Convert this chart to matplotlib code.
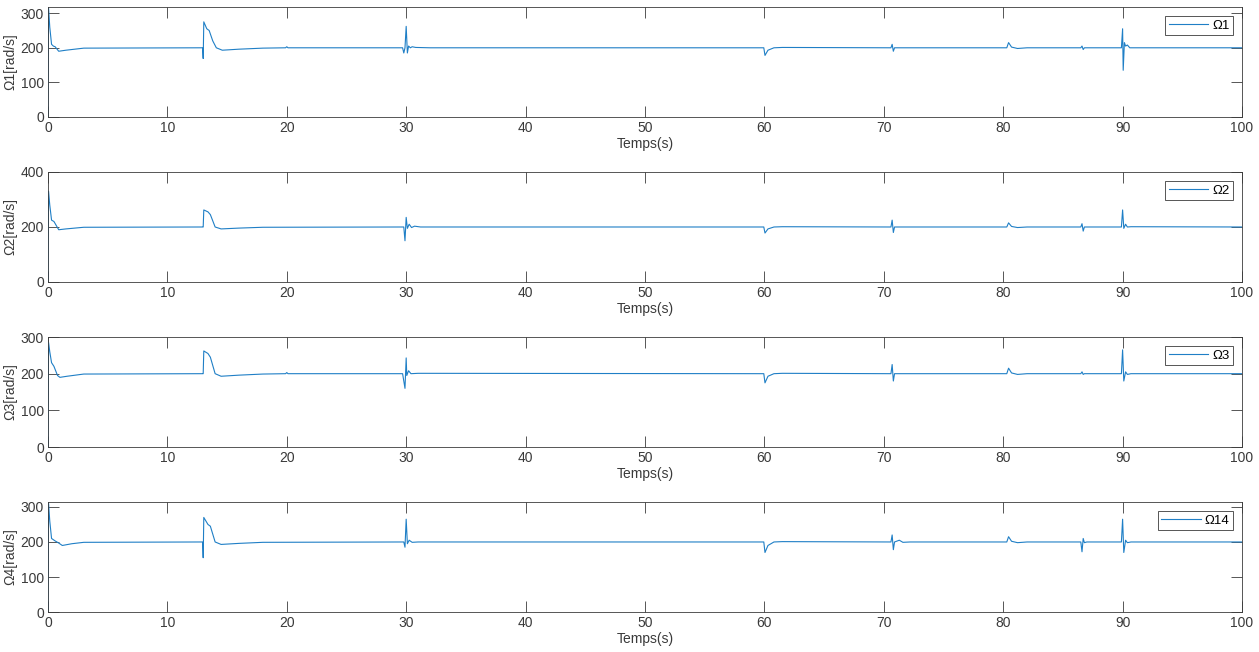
"""Four stacked rotor-speed traces, MATLAB-style subplots."""

import numpy as np
import matplotlib

matplotlib.use("Agg", force=True)
import matplotlib.pyplot as plt

# --- data (time in s, speed in rad/s) ---
t1 = [0, 0.05, 0.15, 0.3, 0.45, 0.6, 0.9, 1.5, 3, 12.95, 13.0, 13.05, 13.3, 13.5, 13.8, 14.1,
      14.6, 16, 18, 19.9, 20.0, 20.1, 29.7, 29.8, 29.9, 30.0, 30.1, 30.2, 30.35, 30.5, 30.8, 32,
      59.95, 60.05, 60.3, 60.8, 61.5, 70.6, 70.7, 70.8, 70.9, 80.3, 80.45, 80.7, 81.2, 82,
      86.5, 86.6, 86.7, 86.8, 89.9, 90.0, 90.05, 90.15, 90.25, 90.4, 90.6, 91, 100]
w1 = [0, 315, 260, 210, 205, 203, 190, 193, 199, 200, 169, 275, 255, 250, 220, 200,
      193, 196, 199, 200, 203, 200, 200, 185, 200, 262, 185, 205, 200, 203, 201, 200,
      200, 178, 193, 200, 201, 200, 210, 190, 200, 200, 215, 202, 198, 200,
      200, 205, 195, 200, 200, 255, 135, 215, 205, 208, 200, 200, 200]

t2 = [0, 0.05, 0.15, 0.3, 0.5, 0.7, 0.9, 1.5, 3, 12.95, 13.0, 13.05, 13.4, 13.6, 14.0, 14.5,
      16, 18, 29.8, 29.9, 30.0, 30.1, 30.25, 30.45, 30.7, 31.2, 59.95, 60.05, 60.3, 60.8, 61.5,
      70.6, 70.7, 70.8, 70.9, 80.3, 80.45, 80.7, 81.2, 82, 86.5, 86.6, 86.7, 86.8,
      89.9, 90.0, 90.1, 90.25, 90.4, 90.7, 100]
w2 = [0, 330, 280, 225, 220, 205, 190, 193, 199, 200, 200, 262, 255, 245, 200, 193,
      196, 199, 200, 150, 235, 195, 210, 198, 203, 200, 200, 178, 193, 200, 201,
      200, 225, 180, 200, 200, 215, 202, 198, 200, 200, 212, 185, 200,
      200, 262, 195, 210, 200, 201, 200]

t3 = [0, 0.05, 0.15, 0.3, 0.5, 0.8, 1.0, 1.6, 3, 12.95, 13.0, 13.05, 13.4, 13.6, 14.0, 14.5,
      16, 18, 19.9, 20.0, 20.1, 29.7, 29.8, 29.9, 30.0, 30.05, 30.2, 30.4, 31, 59.95, 60.05,
      60.3, 60.8, 61.5, 70.6, 70.7, 70.8, 70.9, 80.3, 80.45, 80.7, 81.2, 82, 86.5, 86.6,
      86.7, 86.8, 89.9, 90.0, 90.1, 90.25, 90.4, 90.7, 100]
w3 = [0, 285, 260, 230, 220, 195, 190, 193, 199, 200, 200, 262, 255, 245, 200, 193,
      196, 199, 200, 203, 200, 200, 180, 160, 243, 195, 208, 200, 201, 200, 175,
      193, 200, 201, 200, 225, 180, 200, 200, 215, 202, 198, 200, 200, 205,
      198, 200, 200, 265, 180, 205, 198, 200, 200]

t4 = [0, 0.05, 0.15, 0.3, 0.6, 0.9, 1.2, 2, 3, 12.95, 13.0, 13.05, 13.4, 13.6, 14.0, 14.5,
      16, 18, 29.8, 29.9, 30.0, 30.1, 30.25, 30.5, 31, 59.95, 60.05, 60.3, 60.8, 61.5,
      70.6, 70.7, 70.8, 70.9, 71.3, 71.6, 72.2, 80.3, 80.45, 80.7, 81.2, 82,
      86.5, 86.6, 86.7, 86.8, 87.0, 89.9, 90.0, 90.1, 90.25, 90.4, 90.7, 100]
w4 = [0, 310, 260, 210, 203, 197, 190, 195, 199, 200, 155, 270, 250, 245, 200, 193,
      196, 199, 200, 185, 265, 195, 205, 199, 200, 200, 170, 190, 200, 201,
      200, 220, 178, 200, 205, 199, 200, 200, 215, 202, 198, 200,
      200, 172, 210, 198, 200, 200, 265, 170, 205, 198, 200, 200]

ylabels = ["Ω1[rad/s]", "Ω2[rad/s]", "Ω3[rad/s]", "Ω4[rad/s]"]
legends = ["Ω1", "Ω2", "Ω3", "Ω14"]
ylims = [(0, 318), (0, 400), (0, 300), (0, 314)]
yticks = [[0, 100, 200, 300], [0, 200, 400], [0, 100, 200, 300], [0, 100, 200, 300]]
xticks = [0, 10, 20, 30, 40, 50, 60, 70, 80, 90, 100]

plt.rcParams["font.family"] = ["Liberation Sans", "DejaVu Sans"]

line_color = "#1f7fc6"
axis_color = "#3a3a3a"

fig = plt.figure(figsize=(12.59, 6.52), dpi=100)
bottoms = [0.8206, 0.5675, 0.3144, 0.0613]
series = [(t1, w1), (t2, w2), (t3, w3), (t4, w4)]

for i, (t, w) in enumerate(series):
    assert len(t) == len(w), i
    ax = fig.add_axes([0.0381, bottoms[i], 0.9484, 0.1687])
    ax.plot(t, w, color=line_color, linewidth=0.8, label=legends[i])
    ax.set_xlim(0, 100)
    ax.set_ylim(*ylims[i])
    ax.set_xticks(xticks)
    ax.set_yticks(yticks[i])
    ax.set_xlabel("Temps(s)", fontsize=10, color=axis_color, labelpad=1)
    ax.set_ylabel(ylabels[i], fontsize=10, color=axis_color, labelpad=2)
    ax.tick_params(direction="in", length=8, width=0.6, top=True, right=True,
                   labelsize=10, colors=axis_color, pad=3)
    for sp in ax.spines.values():
        sp.set_color(axis_color)
        sp.set_linewidth(0.6)
    leg = ax.legend(loc="upper right", fontsize=9.5, handlelength=3.0, handletextpad=0.3,
                    borderpad=0.25, borderaxespad=0.7, fancybox=False, framealpha=1.0)
    leg.get_frame().set_edgecolor(axis_color)
    leg.get_frame().set_linewidth(0.6)

fig.savefig("out.png", dpi=100)
